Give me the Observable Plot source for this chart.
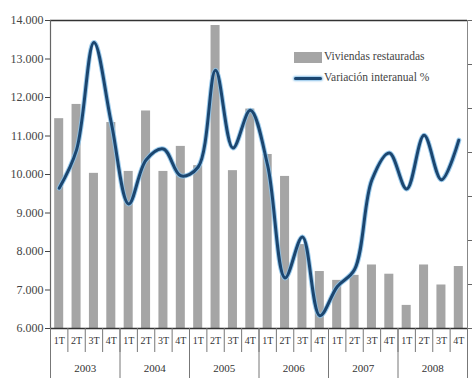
<!DOCTYPE html>
<html>
<head>
<meta charset="utf-8">
<script src="https://cdn.jsdelivr.net/npm/d3@7"></script>
<script src="https://cdn.jsdelivr.net/npm/@observablehq/plot@0.6"></script>
<style>
  body { margin: 0; background: #fff; }
  #wrap { position: relative; width: 473px; height: 378px; }
  .legend { position: absolute; left: 294px; top: 50px; font-size: 11.5px; color: #444; line-height: 1; }
  .legend .row { display: flex; align-items: center; height: 14px; margin-bottom: 7px; }
  .legend .sw-bar { width: 28px; height: 11px; background: #a5a5a5; margin-right: 2px; }
  .legend .sw-line { width: 28px; height: 3px; background: #1b4670; box-shadow: 0 0 2px 1px #8cc3ea; border-radius: 2px; margin-right: 2px; }
</style>
</head>
<body>
<div id="wrap">
  <div id="chart"></div>
  <div class="legend" style="font-family: 'Liberation Serif', 'Times New Roman', 'DejaVu Serif', serif;">
    <div class="row"><span class="sw-bar"></span><span style="font-family: 'Liberation Serif', 'Times New Roman', serif;">Viviendas restauradas</span></div>
    <div class="row"><span class="sw-line"></span><span style="font-family: 'Liberation Serif', 'Times New Roman', serif;">Variación interanual %</span></div>
  </div>
</div>
<script>
// Quarterly series, 2003–2008
const years = [2003, 2004, 2005, 2006, 2007, 2008];
const quarters = ["1T", "2T", "3T", "4T"];
// Viviendas restauradas (left axis)
const viviendas = [11450, 11820, 10030, 11350, 10080, 11650, 10080, 10730,
                   10230, 13870, 10100, 11700, 10520, 9950, 8180, 7480,
                   7250, 7380, 7650, 7410, 6600, 7650, 7130, 7610];
// Variación interanual % (right axis)
const variacion = [-8.1, 0.6, 25.0, 6.7, -11.7, -1.7, 0.8, -5.3,
                   -3.3, 18.7, 1.0, 9.6, -3.0, -28.5, -19.2, -37.1,
                   -30.5, -26.6, -6.2, -0.1, -8.3, 3.9, -6.2, 2.8];
const leftTicks = [6000, 7000, 8000, 9000, 10000, 11000, 12000, 13000, 14000];
const rightTicks = [-40, -30, -20, -10, 0, 10, 20, 30];

// map right-axis values onto the left scale
const yDomain = [6000, 14000];
const rDomain = [-40, 30];
const toLeft = v => yDomain[0] + (v - rDomain[0]) * (yDomain[1] - yDomain[0]) / (rDomain[1] - rDomain[0]);

const data = viviendas.map((v, i) => ({
  i, year: years[Math.floor(i / 4)], q: quarters[i % 4], viviendas: v, variacion: variacion[i]
}));

const serif = "'Liberation Serif', 'Times New Roman', 'DejaVu Serif', serif";
const fmt = d => d3.format(",")(d).replace(/,/g, ".");
const barHalf = 0.26;

const chart = Plot.plot({
  width: 473,
  height: 378,
  marginLeft: 50,
  marginRight: 6,
  marginTop: 20,
  marginBottom: 50,
  style: { fontFamily: serif, background: "#fff" },
  x: { domain: [-0.5, 23.5], label: null },
  y: { domain: yDomain, label: null },
  marks: [
    Plot.rectY(data, {
      x1: d => d.i - barHalf, x2: d => d.i + barHalf,
      y1: yDomain[0], y2: "viviendas", fill: "#a5a5a5"
    }),
    Plot.line(data, { x: "i", y: d => toLeft(d.variacion), curve: "catmull-rom", stroke: "#8cc3ea", strokeWidth: 5, strokeOpacity: 0.85 }),
    Plot.line(data, { x: "i", y: d => toLeft(d.variacion), curve: "catmull-rom", stroke: "#1b4670", strokeWidth: 3 }),
    // frame
    Plot.ruleY([yDomain[1]], { stroke: "#333", strokeWidth: 1.5 }),
    Plot.ruleY([yDomain[0]], { stroke: "#333", strokeWidth: 1.5 }),
    Plot.ruleX([-0.5], { stroke: "#666", strokeWidth: 1.2 }),
    Plot.ruleX([23.5], { stroke: "#888", strokeWidth: 1 }),
    // left axis
    Plot.axisY({ ticks: leftTicks, tickFormat: fmt, tickSize: 5, tickPadding: 2, fontSize: 12, color: "#444", label: null }),
    // right axis (ticks only)
    Plot.axisY({ anchor: "right", ticks: rightTicks.map(toLeft), tickFormat: () => "", tickSize: 4, color: "#666", label: null }),
    // quarter separators and year separators
    Plot.axisX({ ticks: d3.range(-0.5, 24, 1), tickSize: 24, tickFormat: () => "", stroke: "#777", label: null }),
    Plot.axisX({ ticks: d3.range(-0.5, 24, 4), tickSize: 50, tickFormat: () => "", stroke: "#777", label: null }),
    // quarter labels
    Plot.axisX({ ticks: d3.range(0, 24), tickSize: 0, tickPadding: 8, tickFormat: i => quarters[i % 4], fontSize: 10, color: "#333", label: null }),
    // year labels
    Plot.axisX({ ticks: years.map((y, k) => 4 * k + 1.5), tickSize: 0, tickPadding: 36, tickFormat: v => String(years[Math.round((v - 1.5) / 4)]), fontSize: 11, color: "#333", label: null })
  ]
});
document.getElementById("chart").appendChild(chart);
</script>
</body>
</html>
